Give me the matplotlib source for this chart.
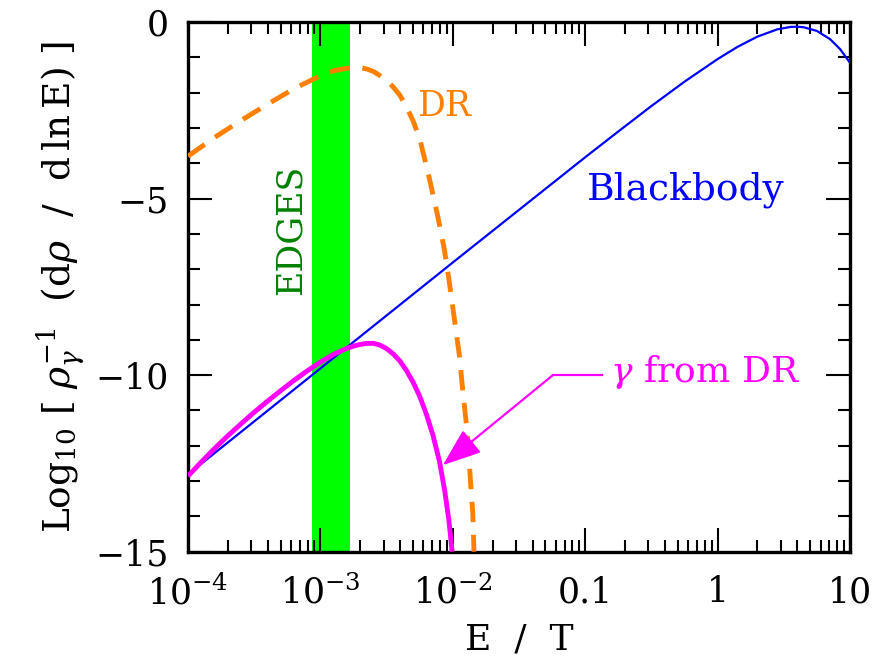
import numpy as np
import matplotlib
matplotlib.use("Agg")
import matplotlib.pyplot as plt
from matplotlib.ticker import FixedLocator, LogLocator, NullFormatter, MultipleLocator

plt.rcParams['font.family'] = ['DejaVu Serif']
plt.rcParams['mathtext.fontset'] = 'dejavuserif'

# ---- data (log10 of E/T, log10 of spectrum) ----
bb_logE = [-4.0, -3.5, -3.0, -2.5, -2.0, -1.5, -1.0, -0.75, -0.5, -0.25, 0.0,
           0.15, 0.3, 0.45, 0.55, 0.6, 0.65, 0.75, 0.85, 0.925, 1.0]
bb_val = [-12.81, -11.31, -9.81, -8.31, -6.81, -5.32, -3.83, -3.10, -2.38, -1.69, -1.05,
          -0.705, -0.415, -0.209, -0.140, -0.133, -0.148, -0.253, -0.487, -0.767, -1.155]

dr_logE = [-4.0, -3.8, -3.6, -3.4, -3.2, -3.0, -2.9, -2.8, -2.75, -2.7, -2.65, -2.6,
           -2.55, -2.5, -2.45, -2.4, -2.35, -2.3, -2.25, -2.18, -2.113, -2.063,
           -2.025, -1.987, -1.949, -1.924, -1.894, -1.874, -1.849, -1.84]
dr_val = [-3.8, -3.27, -2.79, -2.33, -1.89, -1.52, -1.38, -1.31, -1.29, -1.29, -1.33, -1.40,
          -1.52, -1.66, -1.84, -2.07, -2.40, -2.80, -3.30, -4.38, -5.51, -6.46,
          -7.40, -8.44, -9.48, -10.47, -11.51, -12.59, -13.91, -15.0]

gam_logE = [-4.0, -3.9, -3.8, -3.7, -3.6, -3.5, -3.4, -3.3, -3.2, -3.1, -3.0, -2.9, -2.8,
            -2.75, -2.7, -2.65, -2.6, -2.55, -2.5, -2.45, -2.4, -2.35, -2.3, -2.25,
            -2.2, -2.15, -2.1, -2.06, -2.03, -2.005]
gam_val = [-12.86, -12.46, -12.08, -11.72, -11.38, -11.05, -10.74, -10.44, -10.15, -9.88,
           -9.63, -9.41, -9.24, -9.18, -9.13, -9.10, -9.10, -9.15, -9.25, -9.4, -9.6,
           -9.87, -10.2, -10.6, -11.1, -11.7, -12.45, -13.3, -14.1, -15.0]

edges_band = [8.6e-4, 1.67e-3]

xtick_vals = [1e-4, 1e-3, 1e-2, 0.1, 1, 10]
xtick_labels = [r'$10^{-4}$', r'$10^{-3}$', r'$10^{-2}$', '0.1', '1', '10']
ytick_vals = [-15, -10, -5, 0]
ytick_labels = ['\u221215', '\u221210', '\u22125', '0']

bb_E = 10.0 ** np.array(bb_logE)
dr_E = 10.0 ** np.array(dr_logE)
gam_E = 10.0 ** np.array(gam_logE)

H = 661
fig = plt.figure(figsize=(8.76, 6.61), dpi=100)
ax = fig.add_axes([188/876, 1-551.7/661, (850-188)/876, (551.7-22)/661])

ax.axvspan(edges_band[0], edges_band[1], color='#00ff00', lw=0, zorder=1)
ax.plot(bb_E, bb_val, color='#0000ff', lw=1.6, zorder=3)
ax.plot(dr_E, dr_val, color='#ff8000', lw=3.5, dashes=(4.2, 2.6), zorder=3)
ax.plot(gam_E, gam_val, color='#ff00ff', lw=3.5, zorder=4, solid_capstyle='butt')

ax.set_xscale('log')
ax.set_xlim(1e-4, 10)
ax.set_ylim(-15, 0)

ax.xaxis.set_major_locator(FixedLocator(xtick_vals))
ax.set_xticklabels(xtick_labels)
ax.xaxis.set_minor_locator(LogLocator(base=10, subs=np.arange(2, 10), numticks=20))
ax.xaxis.set_minor_formatter(NullFormatter())
ax.set_yticks(ytick_vals)
ax.set_yticklabels(ytick_labels)
ax.yaxis.set_minor_locator(MultipleLocator(1))

ax.tick_params(which='both', direction='in', top=True, right=True, width=1.5, labelsize=25, pad=14)
ax.tick_params(axis='x', which='both', pad=17)
ax.tick_params(which='major', length=17)
ax.tick_params(which='minor', length=8.6)
for s in ax.spines.values():
    s.set_linewidth(2.4)

ax.set_xlabel('E  /  T', fontsize=26, labelpad=8)
ax.set_ylabel(r'Log$_{10}$ [ $\rho_\gamma^{-1}$  (d$\rho$  /  d$\,$ln$\,$E) ]', fontsize=27, labelpad=6)

ax.text(444, H-106, 'DR', transform=None, color='#ff8000', fontsize=25,
        ha='center', va='center')
ax.text(686, H-190, 'Blackbody', transform=None, color='#0000ff', fontsize=27,
        ha='center', va='center')
ax.text(291, H-230, 'EDGES', transform=None, color='#008000', fontsize=25,
        ha='center', va='center', rotation=90)
ax.text(705, H-372, r'$\gamma$ from DR', transform=None, color='#ff00ff', fontsize=26,
        ha='center', va='center')

# annotation arrow (data coords)
arrow_tip = (8.4e-3, -12.55)
arrow_knee = (5.7e-2, -10.0)
arrow_start = (0.133, -10.0)
ax.plot([arrow_start[0], arrow_knee[0]], [arrow_start[1], arrow_knee[1]], color='#ff00ff', lw=1.6, zorder=5)
ax.annotate('', xy=arrow_tip, xytext=arrow_knee,
            arrowprops=dict(arrowstyle='-|>,head_length=2.4,head_width=0.9', color='#ff00ff', lw=1.6,
                            shrinkA=0, shrinkB=0), zorder=5)

fig.savefig('out.png', dpi=100)
